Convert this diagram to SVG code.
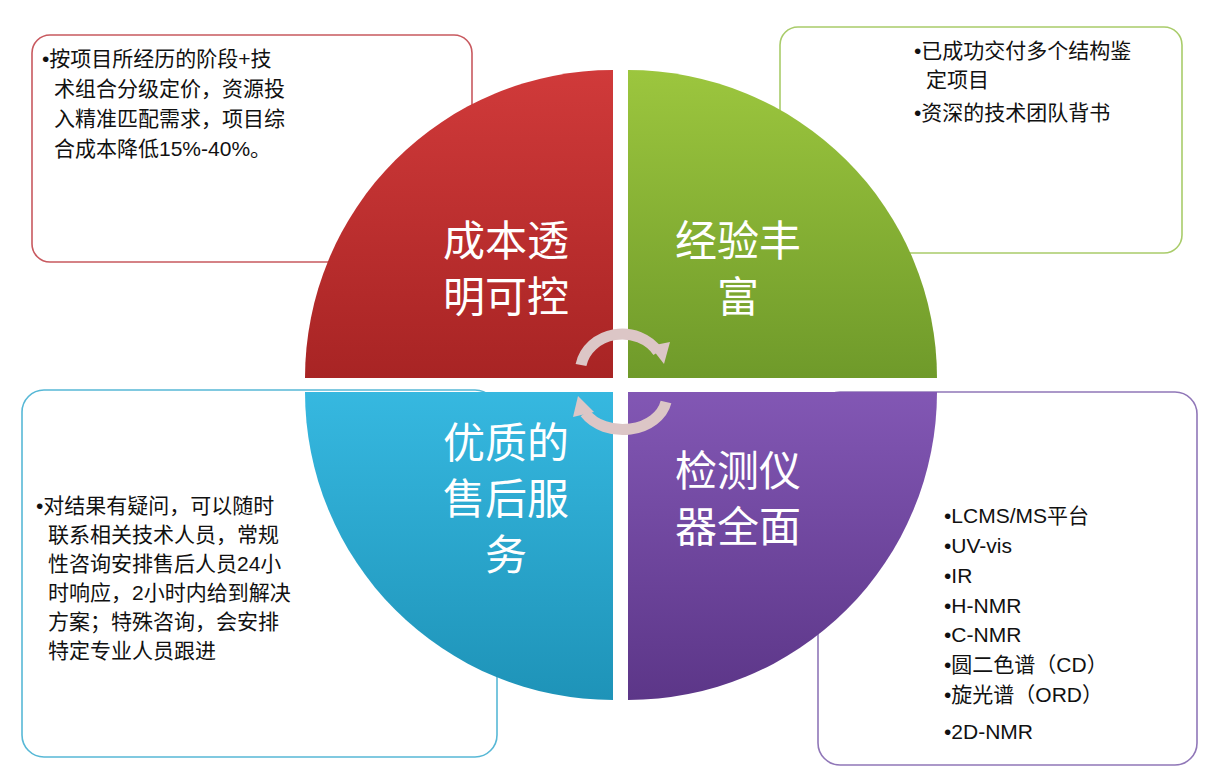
<svg xmlns="http://www.w3.org/2000/svg" width="1220" height="784" viewBox="0 0 1220 784">
<defs>
<style>
.box{fill:#fff;stroke-width:1.6}
.t{font-family:"Liberation Sans","Noto Sans CJK SC",sans-serif;font-size:21px;fill:#111}
.q{font-family:"Noto Sans CJK SC",sans-serif;font-size:42px;fill:#fff;text-anchor:middle}
.arc{fill:none;stroke:#dcc6c6;stroke-width:11}
.ah{fill:#dcc6c6}
</style>
<linearGradient id="gr" x1="0" y1="0" x2="0" y2="1"><stop offset="0" stop-color="#d03a3a"/><stop offset="1" stop-color="#a82424"/></linearGradient>
<linearGradient id="gg" x1="0" y1="0" x2="0" y2="1"><stop offset="0" stop-color="#9cc63e"/><stop offset="1" stop-color="#6f9a2a"/></linearGradient>
<linearGradient id="gb" x1="0" y1="0" x2="0" y2="1"><stop offset="0" stop-color="#36b8e0"/><stop offset="1" stop-color="#1e93b8"/></linearGradient>
<linearGradient id="gp" x1="0" y1="0" x2="0" y2="1"><stop offset="0" stop-color="#8257b4"/><stop offset="1" stop-color="#5c3688"/></linearGradient>
</defs>
<rect width="1220" height="784" fill="#fff"/>
<g id="box-tl"><rect class="box" x="32" y="35" width="440" height="227" rx="18" stroke="#c8595f"/>
<text class="t" x="42" y="66">•按项目所经历的阶段+技</text><text class="t" x="54" y="96">术组合分级定价，资源投</text><text class="t" x="54" y="126">入精准匹配需求，项目综</text><text class="t" x="54" y="156">合成本降低15%-40%。</text></g>
<g id="box-tr"><rect class="box" x="780" y="27" width="402" height="226" rx="18" stroke="#a9cc6a"/>
<text class="t" x="914" y="58">•已成功交付多个结构鉴</text><text class="t" x="926" y="87">定项目</text><text class="t" x="914" y="120">•资深的技术团队背书</text></g>
<g id="box-bl"><rect class="box" x="22" y="390" width="475" height="367" rx="22" stroke="#57b8d6"/>
<text class="t" x="36" y="513">•对结果有疑问，可以随时</text><text class="t" x="48" y="542">联系相关技术人员，常规</text><text class="t" x="48" y="571">性咨询安排售后人员24小</text><text class="t" x="48" y="600">时响应，2小时内给到解决</text><text class="t" x="48" y="629">方案；特殊咨询，会安排</text><text class="t" x="48" y="658">特定专业人员跟进</text></g>
<g id="box-br"><rect class="box" x="818" y="392" width="379" height="373" rx="22" stroke="#9077b8"/>
<text class="t" x="944" y="523">•LCMS/MS平台</text><text class="t" x="944" y="553">•UV-vis</text><text class="t" x="944" y="583">•IR</text><text class="t" x="944" y="613">•H-NMR</text><text class="t" x="944" y="642">•C-NMR</text><text class="t" x="944" y="672">•圆二色谱（CD）</text><text class="t" x="944" y="702">•旋光谱（ORD）</text><text class="t" x="944" y="739">•2D-NMR</text></g>
<g id="q-red"><path d="M613 378 L305 378 A308 308 0 0 1 613 70 Z" fill="url(#gr)"/><text class="q" x="506" y="256">成本透</text><text class="q" x="506" y="312">明可控</text></g>
<g id="q-green"><path d="M628 378 L628 70 A309 308 0 0 1 937 378 Z" fill="url(#gg)"/><text class="q" x="738" y="256">经验丰</text><text class="q" x="738" y="312">富</text></g>
<g id="q-blue"><path d="M613 392 L613 700 A308 308 0 0 1 305 392 Z" fill="url(#gb)"/><text class="q" x="506" y="458">优质的</text><text class="q" x="506" y="514">售后服</text><text class="q" x="506" y="570">务</text></g>
<g id="q-purple"><path d="M628 392 L937 392 A309 308 0 0 1 628 700 Z" fill="url(#gp)"/><text class="q" x="738" y="486">检测仪</text><text class="q" x="738" y="542">器全面</text></g>
<g id="connectors">
<path class="arc" d="M581 365 A42 38 0 0 1 658 352"/>
<polygon class="ah" points="650,346 670,342 664,364"/>
<path class="arc" d="M666 402 A44 34 0 0 1 585 413"/>
<polygon class="ah" points="573,417 578,396 594,412"/>
</g>
</svg>
